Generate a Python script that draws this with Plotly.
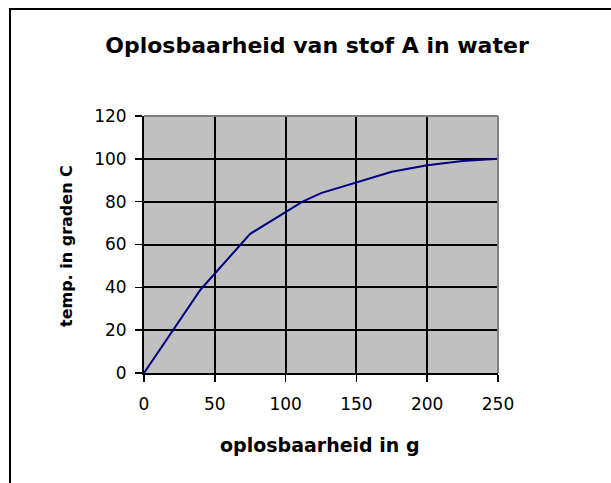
import plotly.graph_objects as go

# data
solubility_g = [0, 25, 40, 75, 112, 125, 175, 200, 225, 250]
temperature_c = [0, 24, 39, 65, 80, 84, 94, 97, 99, 100]

title_text = "Oplosbaarheid van stof A in water"
x_title = "oplosbaarheid in g"
y_title = "temp. in graden C"

W, H = 611, 483
L, R, T, B = 144, 498, 116, 373  # plot area pixel bounds

def px_x(p):
    return (p - L) / (R - L)

def px_y(p):
    return (B - p) / (B - T)

font_fam = "DejaVu Sans, Arial, sans-serif"

fig = go.Figure()
fig.add_trace(go.Scatter(
    x=solubility_g, y=temperature_c, mode="lines",
    line=dict(color="#000080", width=2), showlegend=False, hoverinfo="skip"))

fig.update_layout(
    width=W, height=H,
    margin=dict(l=L, r=W - R, t=T, b=H - B),
    paper_bgcolor="white", plot_bgcolor="#C0C0C0",
    font=dict(family=font_fam, color="black", size=17),
    title=dict(text="<b>" + title_text + "</b>", x=317 / W, y=1 - 45 / H,
               xref="container", yref="container",
               xanchor="center", yanchor="middle",
               font=dict(family=font_fam, size=22, color="black")),
    showlegend=False,
)
fig.update_xaxes(range=[0, 250], dtick=50, tick0=0,
                 showgrid=True, gridcolor="black", gridwidth=2,
                 showline=True, linecolor="black", linewidth=2,
                 ticks="outside", ticklen=7, tickcolor="black", tickwidth=1.5,
                 ticklabelstandoff=8,
                 tickfont=dict(size=17), zeroline=False, fixedrange=True)
fig.update_yaxes(range=[0, 120], dtick=20, tick0=0,
                 showgrid=True, gridcolor="black", gridwidth=2,
                 showline=True, linecolor="black", linewidth=2,
                 ticks="outside", ticklen=7, tickcolor="black", tickwidth=1.5,
                 ticklabelstandoff=5,
                 tickfont=dict(size=17), zeroline=False, fixedrange=True)

# gray top and right plot border
fig.add_shape(type="line", xref="paper", yref="paper", x0=0, x1=1, y0=1, y1=1,
              line=dict(color="#808080", width=2))
fig.add_shape(type="line", xref="paper", yref="paper", x0=1, x1=1, y0=0, y1=1,
              line=dict(color="#808080", width=2))
# outer chart border (extends past the right and bottom edges)
fig.add_shape(type="rect", xref="paper", yref="paper",
              x0=px_x(10), x1=px_x(640), y0=px_y(520), y1=px_y(9),
              line=dict(color="black", width=2), layer="above")

fig.add_annotation(text="<b>" + x_title + "</b>", xref="paper", yref="paper",
                   x=px_x(320), y=px_y(445), showarrow=False,
                   xanchor="center", yanchor="middle",
                   font=dict(family=font_fam, size=19, color="black"))
fig.add_annotation(text="<b>" + y_title + "</b>", xref="paper", yref="paper",
                   x=px_x(66), y=px_y(246), showarrow=False, textangle=-90,
                   xanchor="center", yanchor="middle",
                   font=dict(family=font_fam, size=16, color="black"))

fig.write_html("out.html", config={"displayModeBar": False, "staticPlot": True},
               post_script="document.body.style.margin='0';document.body.style.overflow='hidden';")
